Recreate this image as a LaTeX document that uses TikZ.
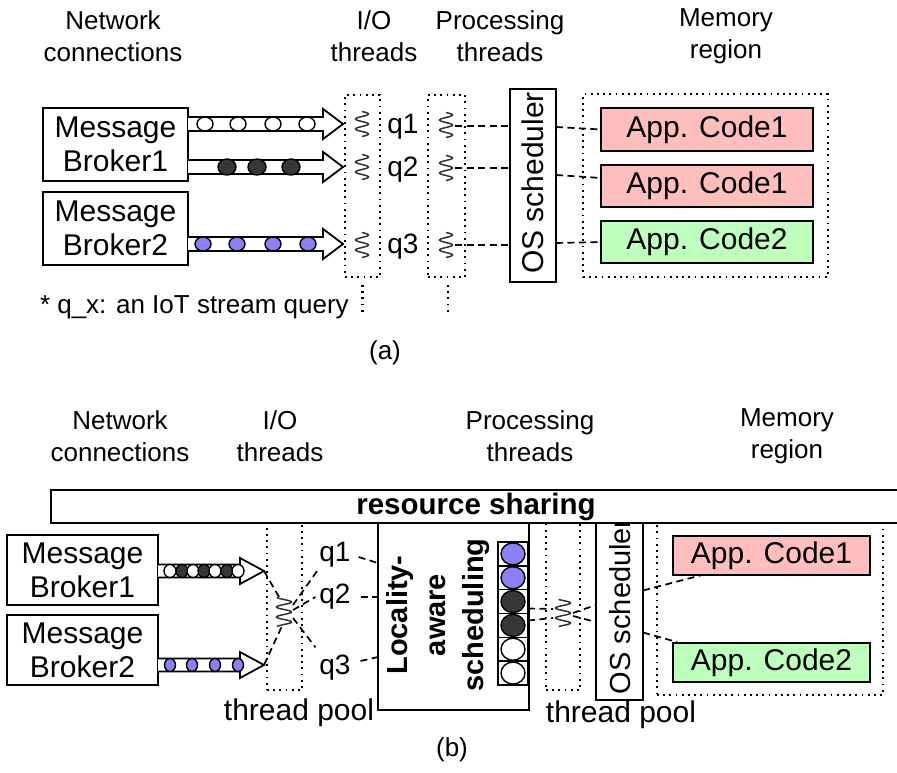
\documentclass[tikz,border=0pt]{standalone}
\usepackage{fontspec}
\setmainfont{Liberation Sans}
\usetikzlibrary{calc}
\definecolor{codepink}{RGB}{255,190,190}
\definecolor{codegreen}{RGB}{190,255,190}
\definecolor{tokpurple}{RGB}{140,128,245}
\definecolor{tokdark}{RGB}{55,55,55}

% vertical wavy thread glyph: name, x, y, amplitude, half height
\newcommand\wavy[5]{%
  \coordinate (#1) at (#2,#3);
  \draw[wave] plot[domain=-#5:#5, samples=120, smooth] ({#2+#4*sin(\x*36+90)},{#3+\x});}

% hollow block arrow: start, tip, shaft half width, head half width, head length
\newcommand\blockarrow[5]{%
  \draw[arrowbody] let \p1=(#1), \p2=(#2) in
    (\x1,\y1+#3) -- (\x2-#5,\y1+#3) -- (\x2-#5,\y1+#4) -- (\x2,\y1)
    -- (\x2-#5,\y1-#4) -- (\x2-#5,\y1-#3) -- (\x1,\y1-#3);}

\begin{document}
\begin{tikzpicture}[x=1pt,y=-1pt,
  every node/.style={inner sep=0pt, outer sep=0pt},
  solidbox/.style={draw, line width=1.8pt, fill=white},
  dotbox/.style={draw, line width=2.1pt, dash pattern=on 1.8pt off 4.4pt},
  conn/.style={line width=1.7pt, dash pattern=on 7pt off 4.5pt},
  wave/.style={line width=1.5pt, draw=black!80},
  arrowbody/.style={draw, line width=1.8pt, fill=white, line join=miter},
  tokline/.style={draw, line width=1.4pt},
  hdr/.style={align=center, font=\fontsize{26}{32}\selectfont},
  big/.style={font=\fontsize{30}{34}\selectfont},
  qlab/.style={font=\fontsize{28}{28}\selectfont},
  ]
\fill[white] (0,0) rectangle (897,773);
\useasboundingbox (0,0) rectangle (897,773);

%%%%%%%%%%%%%%%% (a) %%%%%%%%%%%%%%%%
\node[hdr] (ha1) at (113,36) {Network\\connections};
\node[hdr] (ha2) at (374,36) {I/O\\threads};
\node[hdr] (ha3) at (500,36) {Processing\\threads};
\node[hdr] (ha4) at (726,36) {Memory\\region};

\node[solidbox, big, align=center, minimum width=145pt, minimum height=73pt] (b1) at (115.5,144.5) {Message\\Broker1};
\node[solidbox, big, align=center, minimum width=145pt, minimum height=73pt] (b2) at (115.5,228.5) {Message\\Broker2};

\node[dotbox, minimum width=35pt, minimum height=182pt] (io1) at (362.5,186) {};
\node[dotbox, minimum width=37pt, minimum height=182pt] (pt1) at (446.5,186) {};
\node[solidbox, minimum width=46pt, minimum height=193pt] (os1) at (533,185.5) {};
\node[rotate=90, big] (os1t) at (533,183) {OS scheduler};
\node[dotbox, minimum width=245pt, minimum height=183pt] (mem1) at (705.5,185.5) {};
\node[solidbox, fill=codepink, big, minimum width=212pt, minimum height=43pt] (ap1) at (707,129.5) {App. Code1};
\node[solidbox, fill=codepink, big, minimum width=212pt, minimum height=42pt] (ap2) at (707,186) {App. Code1};
\node[solidbox, fill=codegreen, big, minimum width=212pt, minimum height=42pt] (ap3) at (707,242) {App. Code2};

\coordinate (r1) at (0,124);
\coordinate (r2) at (0,167);
\coordinate (r3) at (0,244);
\path (io1.west |- r1) ++(-2,0) coordinate (t1);
\path (io1.west |- r2) ++(-2,0) coordinate (t2);
\path (io1.west |- r3) ++(-2,0) coordinate (t3);
\blockarrow{b1.east |- r1}{t1}{7pt}{15pt}{20pt}
\blockarrow{b1.east |- r2}{t2}{7pt}{15pt}{20pt}
\blockarrow{b2.east |- r3}{t3}{7pt}{15pt}{20pt}
\foreach \cx in {205,238,273,307}
  \draw[tokline, fill=white] (\cx,124) ellipse [x radius=8pt, y radius=7pt];
\foreach \cx in {227,257,291}
  \draw[tokline, fill=tokdark] (\cx,167) ellipse [x radius=9pt, y radius=8pt];
\foreach \cx in {203,237,273,308}
  \draw[tokline, fill=tokpurple] (\cx,244) ellipse [x radius=8pt, y radius=7pt];

\wavy{wi1}{362}{124}{6.5}{12.5}
\wavy{wi2}{362}{167}{6.5}{12.5}
\wavy{wi3}{362}{245}{6.5}{12.5}
\wavy{wp1}{446}{125}{6.5}{12.5}
\wavy{wp2}{446}{168}{6.5}{12.5}
\wavy{wp3}{446}{245}{6.5}{12.5}

\node[qlab] (q1) at (403,127) {q1};
\node[qlab] (q2) at (403,170) {q2};
\node[qlab] (q3) at (403,247) {q3};

\draw[conn] ($(wp1)+(9,1)$) -- ($(wp1 -| os1.west)+(0,1)$);
\draw[conn] ($(wp2)+(9,0)$) -- (wp2 -| os1.west);
\draw[conn] ($(wp3)+(9,0)$) -- (wp3 -| os1.west);
\draw[conn] ($(os1.east |- wp1)+(0,2)$) -- (ap1.west);
\draw[conn] ($(os1.east |- wp2)+(0,7)$) -- ([yshift=8pt]ap2.west);
\draw[conn] ($(os1.east |- wp3)+(0,-2)$) -- (ap3.west);

\draw[dotbox] ($(io1.south)+(0,8)$) -- ++(0,27);
\draw[dotbox] ($(pt1.south)+(1.5,8)$) -- ++(0,27);

\node[anchor=west, font=\fontsize{26}{26}\selectfont] (fn) at (40,307) {* q\_x: an IoT stream query};
\node[font=\fontsize{26}{26}\selectfont] (capa) at (385,353) {(a)};

%%%%%%%%%%%%%%%% (b) %%%%%%%%%%%%%%%%
\node[hdr] (hb1) at (120,436) {Network\\connections};
\node[hdr] (hb2) at (280,436) {I/O\\threads};
\node[hdr] (hb3) at (530,436) {Processing\\threads};
\node[hdr] (hb4) at (787,436) {Memory\\region};

\node[solidbox, big, align=center, minimum width=151pt, minimum height=70pt] (b3) at (82.5,570) {Message\\Broker1};
\node[solidbox, big, align=center, minimum width=151pt, minimum height=70pt] (b4) at (82.5,650) {Message\\Broker2};

\node[dotbox, minimum width=35pt, minimum height=167pt] (io2) at (284.5,606.5) {};
\node[dotbox, minimum width=34pt, minimum height=167pt] (pt2) at (563,606.5) {};

\coordinate (r4) at (0,571);
\coordinate (r5) at (0,665);
\path (io2.west |- r4) ++(-3,0) coordinate (t4);
\path (io2.west |- r5) ++(-3,0) coordinate (t5);
\blockarrow{b3.east |- r4}{t4}{6.5pt}{13pt}{24pt}
\blockarrow{b4.east |- r5}{t5}{6.5pt}{13pt}{24pt}
\foreach \cx/\cc in {170/white,182/tokdark,193/white,204/tokdark,215/white,227/tokdark,238/white}
  \draw[tokline, fill=\cc] (\cx,571) ellipse [x radius=6pt, y radius=6.5pt];
\foreach \cx in {170,192,215,238}
  \draw[tokline, fill=tokpurple] (\cx,665) ellipse [x radius=5.5pt, y radius=6.5pt];

\wavy{wi4}{284}{612}{7.5}{14.5}
\wavy{wp4}{563}{613}{7.5}{13.5}

\node[qlab] (qb1) at (335,555) {q1};
\node[qlab] (qb2) at (335,597) {q2};
\node[qlab] (qb3) at (335,668) {q3};

\draw[conn] (t4) -- ($(wi4)+(-5,-15)$);
\draw[conn] (t5) -- ($(wi4)+(-2,14)$);
\draw[conn] ($(wi4)+(9,-7)$) -- ($(qb1.south west)+(-2,3)$);
\draw[conn] ($(wi4)+(9,-2)$) -- ($(qb2.west)+(-4,0)$);
\draw[conn] ($(wi4)+(9,6)$) -- ($(qb3.north west)+(-4,-8)$);

% locality-aware scheduler with its tuple queue
\node[solidbox, minimum width=151pt, minimum height=187pt] (loc) at (453.5,616.5) {};
\node[rotate=90, align=center, font=\bfseries\fontsize{29}{38}\selectfont] (loct) at (438,615) {Locality-\\aware\\scheduling};
\node[minimum width=30pt, minimum height=143pt] (queue) at (513,613.5) {};
\foreach \i/\cc in {0/tokpurple,1/tokpurple,2/tokdark,3/tokdark,4/white,5/white} {
  \draw[line width=1.6pt, fill=white] (498,{542+\i*23.83}) rectangle (528,{542+(\i+1)*23.83});
  \draw[tokline, fill=\cc] (513,{542+(\i+0.5)*23.83}) ellipse [x radius=12pt, y radius=11pt];
}

\draw[conn] ($(qb1.east)+(8,2)$) -- ($(loc.west |- qb1)+(0,8)$);
\draw[conn] ($(qb2.east)+(10,0)$) -- (loc.west |- qb2);
\draw[conn] ($(qb3.east)+(10,-7)$) -- ($(loc.west |- qb3)+(0,-11)$);

\node[solidbox, minimum width=47pt, minimum height=177pt] (os2) at (619.5,611.5) {};
\node[rotate=90, font=\fontsize{29}{34}\selectfont, anchor=west] (os2t) at (620,694) {OS scheduler};
\node[dotbox, minimum width=226pt, minimum height=172pt] (mem2) at (770,609) {};
\node[solidbox, fill=codepink, big, minimum width=197pt, minimum height=39pt] (ap4) at (771.5,555.5) {App. Code1};
\node[solidbox, fill=codegreen, big, minimum width=197pt, minimum height=39pt] (ap5) at (771.5,662.5) {App. Code2};

\draw[conn] ($(queue.east)+(0,-5)$) -- ($(wp4)+(-10,-4)$);
\draw[conn] ($(queue.east)+(0,7)$) -- ($(wp4)+(-10,5)$);
\draw[conn] ($(wp4)+(10,0)$) -- ($(os2.west |- wp4)+(0,-8)$);
\draw[conn] ($(wp4)+(10,3)$) -- ($(os2.west |- wp4)+(0,9)$);
\draw[conn] ($(os2.east)+(0,-21)$) -- ($(ap4.south west)+(29,0)$);
\draw[conn] ($(os2.east)+(0,21)$) -- ($(ap5.north west)+(4,-1)$);

% shared resource bar across the top
\node[draw, line width=1.8pt, fill=white, minimum width=859pt, minimum height=33pt, anchor=north west] (bar) at (51,490) {};
\node[font=\bfseries\fontsize{29.5}{29.5}\selectfont] (rs) at (476,507) {resource sharing};

\node[big] (tp1) at (299,713) {thread pool};
\node[big] (tp2) at (621,715) {thread pool};
\node[font=\fontsize{26}{26}\selectfont] (capb) at (452,750) {(b)};
\end{tikzpicture}
\end{document}
